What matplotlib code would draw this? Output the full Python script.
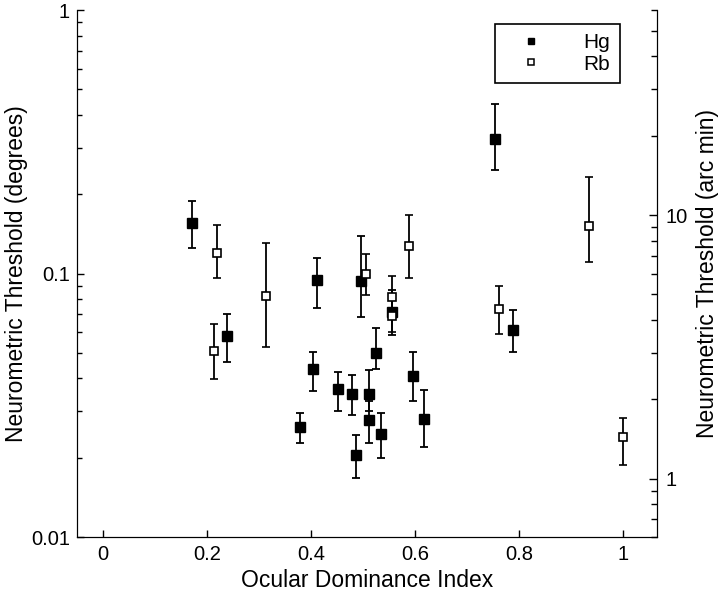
import numpy as np
import matplotlib
matplotlib.use("Agg")
from matplotlib import pyplot as plt
from matplotlib.ticker import NullFormatter, LogLocator
from matplotlib.lines import Line2D

plt.rcParams["font.family"] = ["Liberation Sans", "DejaVu Sans"]

# Hg cells: ocular dominance index, threshold (deg), error bar low / high
hg_odi = [0.171, 0.239, 0.378, 0.403, 0.411, 0.452, 0.478, 0.487, 0.496, 0.511, 0.511,
          0.525, 0.535, 0.555, 0.596, 0.617, 0.754, 0.788]
hg_thr = [0.155, 0.058, 0.0262, 0.0433, 0.0947, 0.0365, 0.0349, 0.0204, 0.0939, 0.0349, 0.0278,
          0.0498, 0.0247, 0.0716, 0.0410, 0.0281, 0.325, 0.0609]
hg_lo = [0.125, 0.046, 0.0228, 0.0359, 0.0742, 0.0302, 0.0291, 0.0168, 0.0684, 0.0300, 0.0227,
         0.0433, 0.0199, 0.0585, 0.0329, 0.0219, 0.248, 0.0505]
hg_hi = [0.189, 0.0702, 0.0295, 0.0505, 0.1148, 0.0422, 0.0413, 0.0244, 0.139, 0.043, 0.0329,
         0.0621, 0.0296, 0.0866, 0.0502, 0.0361, 0.44, 0.0727]

# Rb cells
rb_odi = [0.213, 0.220, 0.313, 0.505, 0.555, 0.555, 0.588, 0.762, 0.935, 1.0]
rb_thr = [0.0507, 0.120, 0.0821, 0.0998, 0.0812, 0.069, 0.127, 0.0735, 0.152, 0.0239]
rb_lo = [0.0397, 0.096, 0.0525, 0.0829, 0.068, 0.060, 0.0964, 0.0591, 0.1103, 0.0188]
rb_hi = [0.0641, 0.153, 0.131, 0.1186, 0.0975, 0.080, 0.1667, 0.0899, 0.2318, 0.0283]

x_ticks = [0, 0.2, 0.4, 0.6, 0.8, 1]
x_ticklabels = ["0", "0.2", "0.4", "0.6", "0.8", "1"]
deg_ticks = [0.01, 0.1, 1]
deg_ticklabels = ["0.01", "0.1", "1"]
min_ticks = [1, 10]
min_ticklabels = ["1", "10"]

fig = plt.figure(figsize=(7.2, 5.93), dpi=100)
ax = fig.add_axes([0.107, 0.0944, 0.8055, 0.8886])

def yerr(v, lo, hi):
    v, lo, hi = np.array(v), np.array(lo), np.array(hi)
    return [v - lo, hi - v]

ax.errorbar(hg_odi, hg_thr, yerr=yerr(hg_thr, hg_lo, hg_hi), fmt="s", color="black",
            mfc="black", mec="black", ms=6.5, elinewidth=1.3, capsize=2.8, capthick=1.3,
            zorder=2)
ax.errorbar(rb_odi, rb_thr, yerr=yerr(rb_thr, rb_lo, rb_hi), fmt="s", color="black",
            mfc="white", mec="black", mew=1.2, ms=5.6, elinewidth=1.3, capsize=2.8,
            capthick=1.3, zorder=3)

ax.set_yscale("log")
ax.set_xlim(-0.05, 1.065)
ax.set_ylim(0.01, 1)
ax.set_xticks(x_ticks, labels=x_ticklabels)
ax.set_yticks(deg_ticks, labels=deg_ticklabels)
ax.yaxis.set_minor_locator(LogLocator(base=10, subs=np.arange(2, 10)))
ax.yaxis.set_minor_formatter(NullFormatter())
ax.tick_params(axis="both", which="major", direction="in", length=5, width=1, labelsize=14.5)
ax.tick_params(axis="y", which="minor", direction="in", length=3.5, width=1)
ax.tick_params(axis="x", pad=6)
ax.tick_params(axis="y", pad=5)
ax.spines["top"].set_visible(False)
ax.set_xlabel("Ocular Dominance Index", fontsize=16.5, labelpad=3)
ax.set_ylabel("Neurometric Threshold (degrees)", fontsize=16.5, labelpad=2)

# right axis in arc min (1 deg = 60 arc min)
ax2 = ax.twinx()
ax2.set_yscale("log")
ax2.set_ylim(0.01 * 60, 1 * 60)
ax2.set_yticks(min_ticks, labels=min_ticklabels)
ax2.yaxis.set_minor_locator(LogLocator(base=10, subs=np.arange(2, 10)))
ax2.yaxis.set_minor_formatter(NullFormatter())
ax2.tick_params(axis="y", which="major", direction="in", length=6, width=1, labelsize=14.5, pad=6)
ax2.tick_params(axis="y", which="minor", direction="in", length=4, width=1)
ax2.spines["top"].set_visible(False)
ax2.set_ylabel("Neurometric Threshold (arc min)", fontsize=16.5, labelpad=6)

handles = [Line2D([], [], ls="none", marker="s", mfc="black", mec="black", ms=5, label="Hg"),
           Line2D([], [], ls="none", marker="s", mfc="white", mec="black", mew=1.1, ms=4.5,
                  label="Rb")]
leg = ax.legend(handles=handles, loc="upper left", bbox_to_anchor=(0.7207, 0.9734),
                borderaxespad=0, fontsize=15, numpoints=1, handlelength=2.6,
                handletextpad=1.2, borderpad=0.45, labelspacing=0.1, fancybox=False,
                framealpha=1, edgecolor="black")
leg.get_frame().set_linewidth(1.2)

fig.savefig("out.png", dpi=100)
